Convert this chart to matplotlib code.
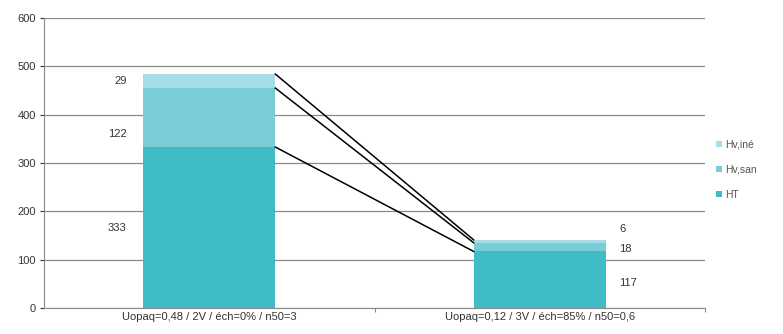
import numpy as np
from matplotlib import pyplot as plt

plt.rcParams['font.family'] = ['Liberation Sans', 'DejaVu Sans']

categories = ['Uopaq=0,48 / 2V / éch=0% / n50=3', 'Uopaq=0,12 / 3V / éch=85% / n50=0,6']
ht = [333, 117]
hv_san = [122, 18]
hv_ine = [29, 6]
series_names = ['HT', 'Hv,san', 'Hv,iné']
colors = ['#40bcc7', '#78cdd7', '#a6dde6']

fig = plt.figure(figsize=(7.83, 3.34), dpi=100)
ax = fig.add_axes([44 / 783, 26 / 334, 661 / 783, 290 / 334])

x = np.arange(len(categories))
width = 0.4
stack = [ht, hv_san, hv_ine]
bottom = np.zeros(len(categories))
tops = []
for vals, name, c in zip(stack, series_names, colors):
    ax.bar(x, vals, width, bottom=bottom, color=c, label=name, zorder=2)
    bottom = bottom + np.array(vals)
    tops.append(bottom.copy())

# series lines between the stacked segments
for t in tops:
    ax.plot([x[0] + width / 2, x[1] - width / 2], [t[0], t[1]], color='black', lw=1.1, zorder=3)

# value labels: left of the first bar, right of the second
lbl = dict(fontsize=8, color='#333333', va='center')
left_mids = [ht[0] / 2, ht[0] + hv_san[0] / 2 - 35, ht[0] + hv_san[0] + hv_ine[0] / 2]
for vals, y in zip(stack, left_mids):
    ax.text(x[0] - width / 2 - 0.05, y, str(vals[0]), ha='right', **lbl)
right_mids = [ht[1] / 2 - 6, ht[1] + hv_san[1] / 2 - 4, ht[1] + hv_san[1] + hv_ine[1] / 2 + 25]
for vals, y in zip(stack, right_mids):
    ax.text(x[1] + width / 2 + 0.04, y, str(vals[1]), ha='left', **lbl)

ax.set_ylim(0, 600)
ax.set_xlim(-0.5, 1.5)
ax.set_yticks(range(0, 601, 100))
ax.set_xticks(x)
ax.set_xticklabels(categories)
ax.set_xticks([0.5, 1.5], minor=True)
ax.tick_params(axis='y', labelsize=8, colors='#333333', length=3, width=0.8, pad=3)
ax.tick_params(axis='x', labelsize=8, colors='#333333', length=0, pad=3)
ax.tick_params(axis='x', which='minor', length=3, width=0.8, color='#8a8a8a')
ax.grid(axis='y', color='#8a8a8a', lw=0.9, zorder=0)
for s in ['top', 'right']:
    ax.spines[s].set_visible(False)
ax.spines['left'].set_color('#8a8a8a')
ax.spines['bottom'].set_color('#8a8a8a')

handles, labels = ax.get_legend_handles_labels()
fig.legend(handles[::-1], labels[::-1], loc='center left', bbox_to_anchor=(707 / 783, 1 - 170 / 334),
           frameon=False, fontsize=7.5, handlelength=0.5, handleheight=0.5, handletextpad=0.3,
           labelspacing=1.45, labelcolor='#555555')

fig.savefig('out.png', dpi=100)
